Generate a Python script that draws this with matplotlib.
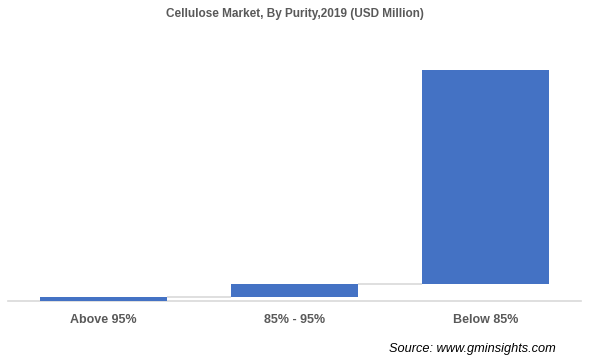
import matplotlib
matplotlib.use("Agg")
import matplotlib.pyplot as plt
import numpy as np

categories = ["Above 95%", "85% - 95%", "Below 85%"]
values = [480, 1400, 23600]
title = "Cellulose Market, By Purity,2019 (USD Million)"
source = "Source: www.gminsights.com"

bar_color = "#4472C4"
grid_color = "#D9D9D9"
text_color = "#595959"

plt.rcParams['font.family'] = ['Liberation Sans', 'DejaVu Sans']

fig = plt.figure(figsize=(5.9, 3.59), dpi=100)
W, H = 590, 359
ax_left, ax_right = 8, 581
ax_bottom = 301
ax_top = 47
ax = fig.add_axes([ax_left / W, 1 - ax_bottom / H, (ax_right - ax_left) / W, (ax_bottom - ax_top) / H])

x = np.arange(len(categories))
bottoms = np.concatenate([[0], np.cumsum(values)[:-1]])
width = 0.66
ax.bar(x, values, width=width, bottom=bottoms, color=bar_color, zorder=3)

tops = bottoms + np.array(values)
for i in range(len(categories) - 1):
    ax.plot([x[i] + width / 2, x[i + 1] - width / 2], [tops[i], tops[i]],
            color=grid_color, lw=1.2, zorder=2, solid_capstyle='butt')

total = tops[-1]
ax.set_xlim(-0.5, len(categories) - 0.5)
ax.set_ylim(0, total * 1.1)

for s in ["top", "right", "left"]:
    ax.spines[s].set_visible(False)
ax.spines["bottom"].set_color(grid_color)
ax.spines["bottom"].set_linewidth(1.2)
ax.set_yticks([])
ax.set_xticks(x)
ax.set_xticklabels(categories, fontsize=9, fontweight='bold', color=text_color)
ax.tick_params(axis='x', length=0, pad=9.5)

fig.text(295 / W, 1 - 14 / H, title, ha='center', va='center', fontsize=8.5,
         fontweight='bold', color=text_color)
fig.text(556 / W, 1 - 349 / H, source, ha='right', va='center', fontsize=9.2,
         style='italic', color='black')

fig.savefig("out.png", dpi=100)
